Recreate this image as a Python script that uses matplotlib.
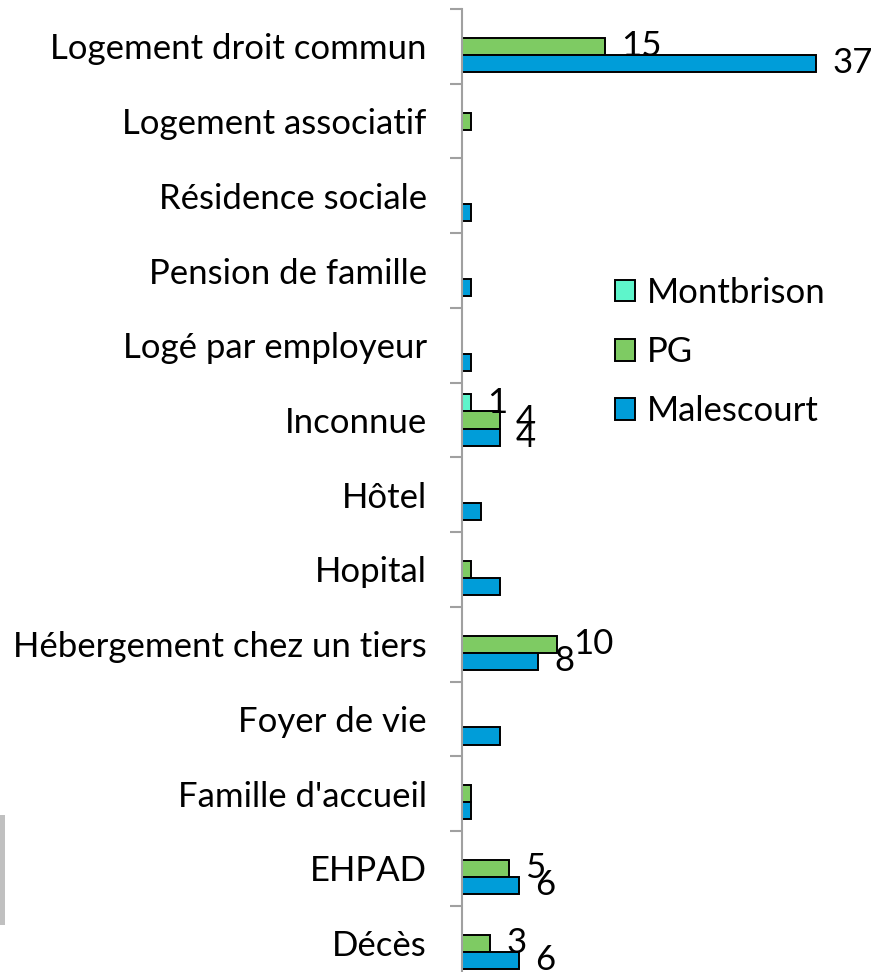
import matplotlib
matplotlib.use("Agg")
import matplotlib.pyplot as plt
from matplotlib.patches import Rectangle
import numpy as np

plt.rcParams['font.family'] = ['Lato', 'DejaVu Sans']

categories = [
    "Logement droit commun", "Logement associatif", "Résidence sociale",
    "Pension de famille", "Logé par employeur", "Inconnue", "Hôtel",
    "Hopital", "Hébergement chez un tiers", "Foyer de vie",
    "Famille d'accueil", "EHPAD", "Décès",
]
series_names = ["Montbrison", "PG", "Malescourt"]
montbrison = [0, 0, 0, 0, 0, 1, 0, 0, 0, 0, 0, 0, 0]
pg = [15, 1, 0, 0, 0, 4, 0, 1, 10, 0, 1, 5, 3]
malescourt = [37, 0, 1, 1, 1, 4, 2, 4, 8, 4, 1, 6, 6]
# values carrying a data label, per series
labelled = {
    "Montbrison": [5],
    "PG": [0, 5, 8, 11, 12],
    "Malescourt": [0, 5, 8, 11, 12],
}
colors = ["#5ef5cb", "#7ecb63", "#009dd9"]

W, H = 882, 972
fig = plt.figure(figsize=(W / 100, H / 100), dpi=100)
ax_left, ax_right = 461.5 / W, 845 / W
ax_top, ax_bot = 1 - 9 / H, 1 - 980.5 / H
ax = fig.add_axes([ax_left, ax_bot, ax_right - ax_left, ax_top - ax_bot])

n = len(categories)
pos = np.arange(n)
bh = 0.228
data = [montbrison, pg, malescourt]
fs = 25
for k, (name, vals, col) in enumerate(zip(series_names, data, colors)):
    y = pos + (k - 1) * bh
    ax.barh(y, vals, height=bh, color=col, edgecolor="black", linewidth=1.4,
            label=name, zorder=2)
    for i in labelled[name]:
        ax.annotate(str(vals[i]), xy=(vals[i], y[i]), xytext=(11.5, 0),
                    textcoords="offset points", ha="left", va="center",
                    fontsize=fs, color="black", zorder=3)

ax.set_ylim(n - 0.5, -0.5)
ax.set_xlim(0, 40)
ax.set_yticks(pos)
ax.set_yticklabels(categories, fontsize=fs)
ax.set_yticks(np.arange(n + 1) - 0.5, minor=True)
ax.tick_params(axis="y", which="major", length=0, pad=25)
ax.tick_params(axis="y", which="minor", length=9, width=1.5, color="#a0a0a0")
ax.set_xticks([])
for s in ["top", "right", "bottom"]:
    ax.spines[s].set_visible(False)
ax.spines["left"].set_color("#a0a0a0")
ax.spines["left"].set_linewidth(1.5)

leg = ax.legend(loc="center left", bbox_to_anchor=(615 / W, 1 - 352 / H),
                bbox_transform=fig.transFigure, frameon=False, fontsize=fs,
                handlelength=0.58, handleheight=0.58, handletextpad=0.33,
                labelspacing=0.78, borderpad=0, borderaxespad=0)

fig.patches.append(Rectangle((0, 1 - 925 / H), 5 / W, 110 / H,
                             transform=fig.transFigure, facecolor="#c0c0c0",
                             edgecolor="none"))

fig.savefig("out.png", dpi=100)
